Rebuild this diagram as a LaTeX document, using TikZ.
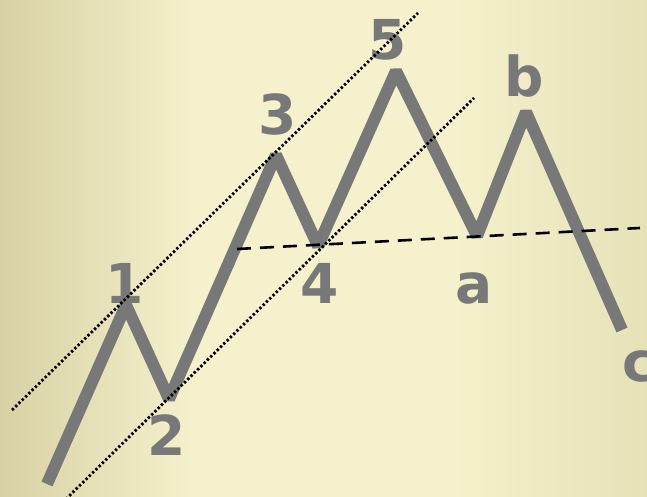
\documentclass[tikz,border=0pt]{standalone}
\usepackage{fontspec}
\setmainfont{DejaVu Sans}
\definecolor{bgl}{RGB}{216,209,164}
\definecolor{bgm}{RGB}{244,241,204}
\definecolor{bgr}{RGB}{230,226,184}
\pgfdeclarehorizontalshading{bgshade}{100bp}{color(0bp)=(bgl); color(25bp)=(bgl); color(40bp)=(bgm); color(60bp)=(bgm); color(75bp)=(bgr); color(100bp)=(bgr)}
\begin{document}
\begin{tikzpicture}[x=1pt,y=-1pt,
  wave/.style={line width=12pt,color=wavegray,line join=bevel,line cap=butt},
  lbl/.style={anchor=base,inner sep=0pt,text=wavegray,font=\fontsize{55}{60}\selectfont\bfseries},
  chan/.style={line width=2.8pt,dash pattern=on 2.4pt off 2.2pt,black},
  neck/.style={line width=2.6pt,dash pattern=on 14pt off 9pt,black}]
\definecolor{wavegray}{RGB}{120,120,120}
\useasboundingbox (0,0) rectangle (647,497);
\shade[shading=bgshade] (0,0) rectangle (647,497);
% wave points
\coordinate (s) at (47,484);
\coordinate (p1) at (126,305);
\coordinate (p2) at (169,399);
\coordinate (p3) at (276,155);
\coordinate (p4) at (318,246);
\coordinate (p5) at (396,71);
\coordinate (pa) at (477,236);
\coordinate (pb) at (526,112);
\coordinate (pc) at (622,330);
\draw[wave] (s) -- (p1) -- (p2) -- (p3) -- (p4) -- (p5) -- (pa) -- (pb) -- (pc);
% labels
\node[lbl] (l1) at (125,303) {1};
\node[lbl] (l2) at (167,455) {2};
\node[lbl] (l3) at (278,135) {3};
\node[lbl] (l4) at (320,303) {4};
\node[lbl] (l5) at (388,60) {5};
\node[lbl] (la) at (474,303) {a};
\node[lbl] (lb) at (524,97) {b};
\node[lbl] (lc) at (639,381) {c};
% neckline
\coordinate (n1) at (237,249);
\coordinate (n2) at (640,228);
\draw[neck] (n1) -- (n2);
% channel lines
\coordinate (u1) at (12,410);
\coordinate (u2) at (418,13);
\coordinate (d1) at (66,499);
\coordinate (d2) at (474,98);
\draw[chan] (u1) -- (u2);
\draw[chan] (d1) -- (d2);
\end{tikzpicture}
\end{document}
